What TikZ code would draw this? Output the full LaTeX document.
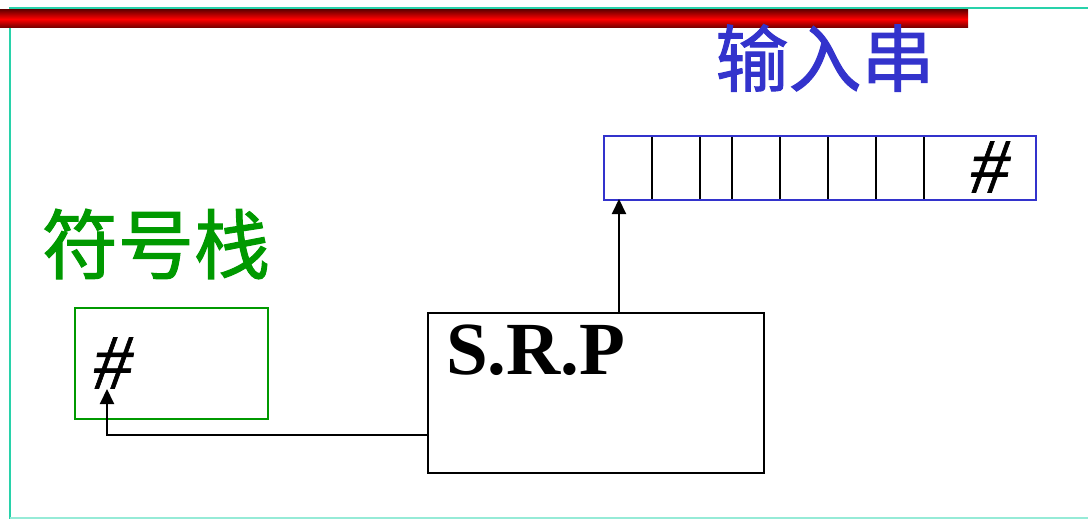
\documentclass[tikz,border=0pt]{standalone}
\usepackage{fontspec}
\setmainfont{Liberation Serif}
\newfontfamily\cjk[FakeBold=1.4]{Noto Sans CJK SC}
\newfontfamily\hashfont[FakeBold=0.8]{Liberation Serif Italic}
\usetikzlibrary{arrows.meta,calc}
\definecolor{frameteal}{RGB}{40,210,170}
\definecolor{framelight}{RGB}{150,235,215}
\definecolor{inblue}{RGB}{51,51,204}
\definecolor{stgreen}{RGB}{0,153,0}
\definecolor{darkred}{RGB}{110,0,0}
\begin{document}
\begin{tikzpicture}[x=1pt,y=-1pt,
  box/.style={draw,line width=2pt,inner sep=0pt,anchor=north west},
  cell/.style={draw=black,line width=2pt,inner sep=0pt,anchor=north west,minimum height=64pt},
  conn/.style={line width=2pt,-{Triangle[length=15pt,width=14pt]}},
  hashlbl/.style={font=\hashfont\fontsize{78}{78}\selectfont,inner sep=0pt}
]
\useasboundingbox (0,0) rectangle (1088,519);
% frame
\draw[frameteal,line width=1.8pt] (1088,8) -- (10,8) -- (10,519);
\draw[framelight,line width=1.8pt] (10,518) -- (1088,518);
% red bar
\shade[top color=darkred,bottom color=darkred,middle color=red] (0,10) rectangle (968,28);
% titles
\node[text=inblue,font=\cjk\fontsize{73}{73}\selectfont,inner sep=0pt] (intitle) at (825,58) {输入串};
\node[text=stgreen,font=\cjk\fontsize{76}{76}\selectfont,inner sep=0pt] (sttitle) at (156,244) {符号栈};
% input string cells
\node[cell,minimum width=48pt] (c1) at (602.7,135) {};
\node[cell,minimum width=48.3pt] (c2) at (650.7,135) {};
\node[cell,minimum width=32pt] (c3) at (699,135) {};
\node[cell,minimum width=48pt] (c4) at (731,135) {};
\node[cell,minimum width=48pt] (c5) at (779,135) {};
\node[cell,minimum width=48pt] (c6) at (827,135) {};
\node[cell,minimum width=48pt] (c7) at (875,135) {};
\node[cell,minimum width=112pt] (c8) at (923,135) {};
\node[box,draw=inblue,minimum width=432.3pt,minimum height=64pt] (input) at (602.7,135) {};
\node[hashlbl] (inhash) at (990,167) {\#};
% stack
\node[box,draw=stgreen,minimum width=193pt,minimum height=111pt] (stack) at (74,307) {};
\node[hashlbl] (sthash) at (113,363) {\#};
% SRP
\node[box,draw=black,minimum width=336pt,minimum height=160pt] (srp) at (427,312) {};
\node[font=\bfseries\fontsize{75}{75}\selectfont,inner sep=0pt,anchor=west] (srplbl) at (446,350) {S.R.P};
% connectors
\coordinate (inTip) at (619,199);
\draw[conn] (srp.north -| inTip) -- (inTip);
\coordinate (stTip) at (107,389);
\coordinate (stRow) at (0,435);
\draw[conn] (srp.west |- stRow) -- (stTip |- stRow) -- (stTip);
\end{tikzpicture}
\end{document}
